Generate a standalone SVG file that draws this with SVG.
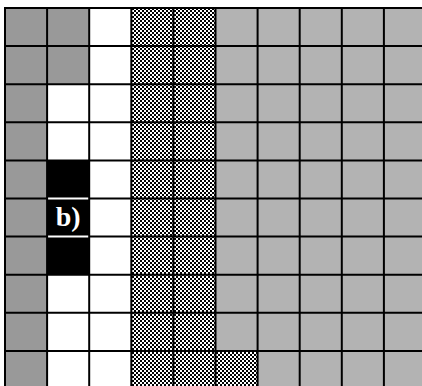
<svg xmlns="http://www.w3.org/2000/svg" width="422" height="386" viewBox="0 0 422 386">
  <style>
    .g1 { fill: #999999; }
    .g2 { fill: #b3b3b3; }
    .wh { fill: #ffffff; }
    .bk { fill: #000000; }
    .ck { fill: url(#checker); }
    .grid line { stroke: #000000; stroke-width: 2; }
    .lbl { font-family: "Liberation Serif", "Times New Roman", serif; font-weight: bold; font-size: 28px; fill: #ffffff; }
  </style>
  <defs>
    <pattern id="checker" patternUnits="userSpaceOnUse" x="0" y="0" width="4" height="4">
      <rect x="0" y="0" width="4" height="4" fill="#ffffff"/>
      <rect x="0" y="0" width="2" height="2" fill="#000000"/>
      <rect x="2" y="2" width="2" height="2" fill="#000000"/>
    </pattern>
  </defs>
  <rect x="0" y="0" width="422" height="386" fill="#ffffff"/>
  <g id="cells">
    <!-- column 0 -->
    <rect class="g1" x="5" y="8" width="42.1" height="381"/>
    <!-- column 1 -->
    <rect class="g1" x="47.1" y="8" width="42.1" height="76.2"/>
    <rect class="wh" x="47.1" y="84.2" width="42.1" height="76.2"/>
    <rect class="bk" x="47.1" y="160.4" width="42.1" height="114.3"/>
    <rect class="wh" x="47.1" y="274.7" width="42.1" height="114.3"/>
    <!-- column 2 -->
    <rect class="wh" x="89.2" y="8" width="42.1" height="381"/>
    <!-- columns 3-4 checker -->
    <rect class="ck" x="131.3" y="8" width="84.2" height="381"/>
    <!-- column 5 -->
    <rect class="g2" x="215.5" y="8" width="42.1" height="342.9"/>
    <rect class="ck" x="215.5" y="350.9" width="42.1" height="38.1"/>
    <!-- columns 6-9 -->
    <rect class="g2" x="257.6" y="8" width="168.4" height="381"/>
  </g>
  <g id="grid" class="grid">
    <line x1="5" y1="7" x2="5" y2="386"/>
    <line x1="47.1" y1="7" x2="47.1" y2="386"/>
    <line x1="89.2" y1="7" x2="89.2" y2="386"/>
    <line x1="131.3" y1="7" x2="131.3" y2="386"/>
    <line x1="173.4" y1="7" x2="173.4" y2="386"/>
    <line x1="215.5" y1="7" x2="215.5" y2="386"/>
    <line x1="257.6" y1="7" x2="257.6" y2="386"/>
    <line x1="299.7" y1="7" x2="299.7" y2="386"/>
    <line x1="341.8" y1="7" x2="341.8" y2="386"/>
    <line x1="383.9" y1="7" x2="383.9" y2="386"/>
    <line x1="4" y1="8" x2="422" y2="8"/>
    <line x1="4" y1="46.1" x2="422" y2="46.1"/>
    <line x1="4" y1="84.2" x2="422" y2="84.2"/>
    <line x1="4" y1="122.3" x2="422" y2="122.3"/>
    <line x1="4" y1="160.4" x2="422" y2="160.4"/>
    <line x1="4" y1="198.5" x2="422" y2="198.5"/>
    <line x1="4" y1="236.6" x2="422" y2="236.6"/>
    <line x1="4" y1="274.7" x2="422" y2="274.7"/>
    <line x1="4" y1="312.8" x2="422" y2="312.8"/>
    <line x1="4" y1="350.9" x2="422" y2="350.9"/>
  </g>
  <g id="label-b">
    <line x1="48.1" y1="198.5" x2="88.2" y2="198.5" stroke="#ffffff" stroke-width="2"/>
    <line x1="48.1" y1="236.6" x2="88.2" y2="236.6" stroke="#ffffff" stroke-width="2"/>
    <text class="lbl" x="68.2" y="226" text-anchor="middle">b)</text>
  </g>
</svg>
